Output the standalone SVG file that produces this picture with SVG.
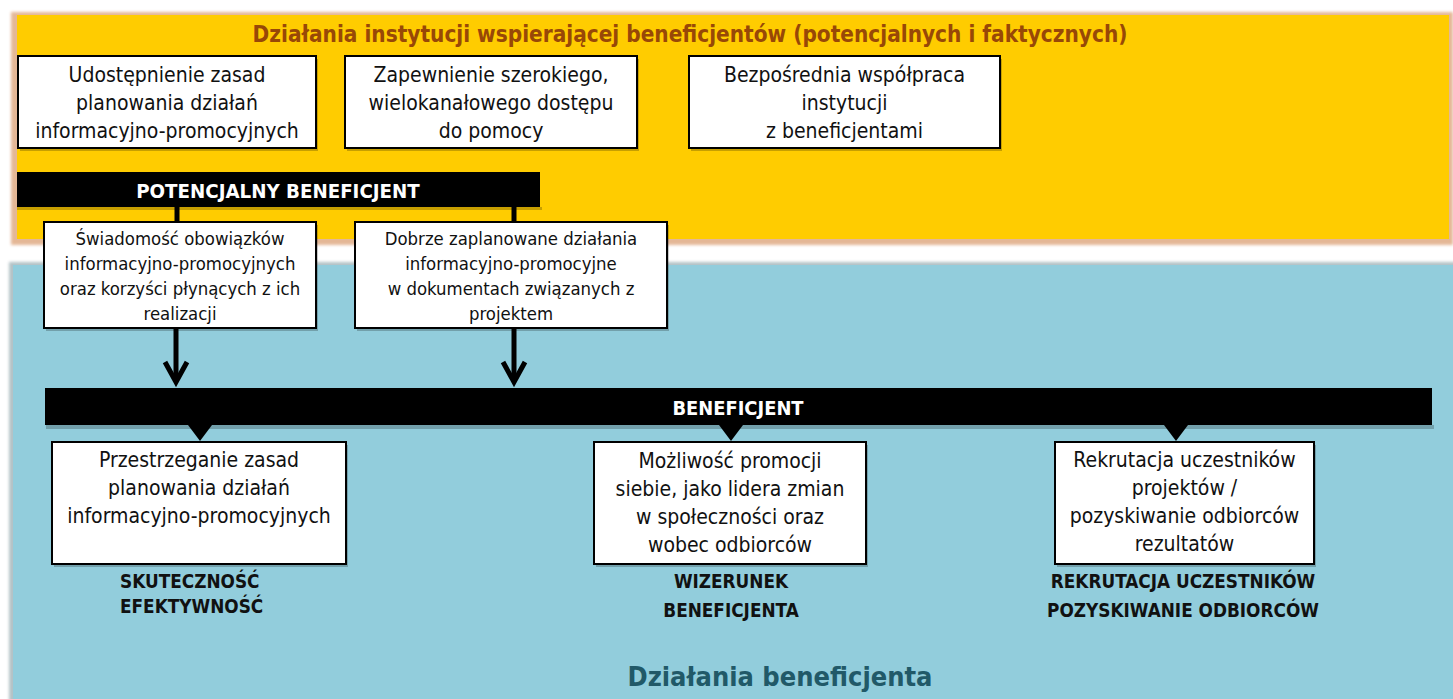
<svg xmlns="http://www.w3.org/2000/svg" width="1453" height="699" viewBox="0 0 1453 699">
<defs>
<style>
text{font-family:"DejaVu Sans Condensed","DejaVu Sans",Verdana,sans-serif;font-stretch:condensed;fill:#111;}
.t19{font-size:21px;text-anchor:middle;}
.t17{font-size:18.4px;text-anchor:middle;}
.lbl{font-size:18.8px;font-weight:bold;}
.bar{fill:#000;}
.bartxt{fill:#fff;font-weight:bold;font-size:20.3px;text-anchor:middle;}
.box{fill:#fff;stroke:#000;stroke-width:2;}
.shd{fill:#000;opacity:0.22;}
.conn{stroke:#000;stroke-width:5;fill:none;}
.chev{stroke:#000;stroke-width:5;fill:none;stroke-linecap:butt;stroke-linejoin:miter;}
</style>
<filter id="blur" x="-5%" y="-5%" width="110%" height="110%"><feGaussianBlur stdDeviation="1.6"/></filter>
</defs>
<rect width="1453" height="699" fill="#fff"/>
<g id="panel-institution">
<rect x="11" y="12" width="1442" height="233" fill="#e4b796" filter="url(#blur)"/>
<rect x="17" y="15" width="1432" height="224" fill="#ffcc00"/>
<text x="690" y="42" style="font-size:22.4px;font-weight:bold;fill:#984807;text-anchor:middle">Działania instytucji wspierającej beneficjentów (potencjalnych i faktycznych)</text>
</g>
<g id="panel-beneficiary">
<rect x="9" y="262" width="1450" height="445" fill="#b4c2c6" filter="url(#blur)"/>
<rect x="13" y="265" width="1440" height="434" fill="#92cddc"/>
<text x="780" y="686" style="font-size:27px;font-weight:bold;fill:#215968;text-anchor:middle">Działania beneficjenta</text>
</g>
<g id="box-udostepnienie">
<rect class="shd" x="20" y="59" width="298" height="92"/>
<rect class="box" x="18" y="56" width="298" height="92"/>
<text class="t19" x="167" y="82">Udostępnienie zasad</text>
<text class="t19" x="167" y="110">planowania działań</text>
<text class="t19" x="167" y="138">informacyjno-promocyjnych</text>
</g>
<g id="box-zapewnienie">
<rect class="shd" x="347" y="59" width="292" height="92"/>
<rect class="box" x="345" y="56" width="292" height="92"/>
<text class="t19" x="491" y="82">Zapewnienie szerokiego,</text>
<text class="t19" x="491" y="110">wielokanałowego dostępu</text>
<text class="t19" x="491" y="138">do pomocy</text>
</g>
<g id="box-wspolpraca">
<rect class="shd" x="691" y="59" width="311" height="92"/>
<rect class="box" x="689" y="56" width="311" height="92"/>
<text class="t19" x="844.5" y="82">Bezpośrednia współpraca</text>
<text class="t19" x="844.5" y="110">instytucji</text>
<text class="t19" x="844.5" y="138">z beneficjentami</text>
</g>
<g id="connectors">
<line class="conn" x1="177" y1="207" x2="177" y2="223"/>
<line class="conn" x1="514" y1="207" x2="514" y2="223"/>
<line class="conn" x1="176" y1="328" x2="176" y2="382"/>
<polyline class="chev" points="165,362 176,382 187,362"/>
<line class="conn" x1="514" y1="328" x2="514" y2="382"/>
<polyline class="chev" points="503,362 514,382 525,362"/>
<polygon points="188,425 212,425 200,441" fill="#000"/>
<polygon points="719,425 743,425 731,441" fill="#000"/>
<polygon points="1164,425 1188,425 1176,441" fill="#000"/>
</g>
<g id="bar-potencjalny">
<rect class="shd" x="17" y="207" width="525" height="3"/>
<rect class="bar" x="17" y="172" width="523" height="35"/>
<text class="bartxt" x="278" y="198">POTENCJALNY BENEFICJENT</text>
</g>
<g id="box-swiadomosc">
<rect class="shd" x="46" y="225" width="272" height="106"/>
<rect class="box" x="44" y="222" width="272" height="106"/>
<text class="t17" x="180" y="245">Świadomość obowiązków</text>
<text class="t17" x="180" y="270">informacyjno-promocyjnych</text>
<text class="t17" x="180" y="295">oraz korzyści płynących z ich</text>
<text class="t17" x="180" y="320">realizacji</text>
</g>
<g id="box-dobrze">
<rect class="shd" x="357" y="225" width="312" height="106"/>
<rect class="box" x="355" y="222" width="312" height="106"/>
<text class="t17" x="511" y="245">Dobrze zaplanowane działania</text>
<text class="t17" x="511" y="270">informacyjno-promocyjne</text>
<text class="t17" x="511" y="295">w dokumentach związanych z</text>
<text class="t17" x="511" y="320">projektem</text>
</g>
<g id="bar-beneficjent">
<rect class="shd" x="46" y="425" width="1388" height="4"/>
<rect class="bar" x="45" y="388" width="1387" height="37"/>
<text class="bartxt" x="738" y="415" style="font-size:19.9px">BENEFICJENT</text>
</g>
<g id="box-przestrzeganie">
<rect class="shd" x="54" y="445" width="294" height="122"/>
<rect class="box" x="52" y="442" width="294" height="122"/>
<text class="t19" x="199" y="467">Przestrzeganie zasad</text>
<text class="t19" x="199" y="495">planowania działań</text>
<text class="t19" x="199" y="523">informacyjno-promocyjnych</text>
<text class="lbl" x="120" y="588">SKUTECZNOŚĆ</text>
<text class="lbl" x="120" y="613">EFEKTYWNOŚĆ</text>
</g>
<g id="box-mozliwosc">
<rect class="shd" x="596" y="445" width="272" height="122"/>
<rect class="box" x="594" y="442" width="272" height="122"/>
<text class="t19" x="730" y="468">Możliwość promocji</text>
<text class="t19" x="730" y="496">siebie, jako lidera zmian</text>
<text class="t19" x="730" y="524">w społeczności oraz</text>
<text class="t19" x="730" y="552">wobec odbiorców</text>
<text class="lbl" x="731" y="588" text-anchor="middle">WIZERUNEK</text>
<text class="lbl" x="731" y="617" text-anchor="middle">BENEFICJENTA</text>
</g>
<g id="box-rekrutacja">
<rect class="shd" x="1057" y="445" width="259" height="122"/>
<rect class="box" x="1055" y="442" width="259" height="122"/>
<text class="t19" x="1184.5" y="467">Rekrutacja uczestników</text>
<text class="t19" x="1184.5" y="495">projektów /</text>
<text class="t19" x="1184.5" y="523">pozyskiwanie odbiorców</text>
<text class="t19" x="1184.5" y="551">rezultatów</text>
<text class="lbl" x="1183" y="588" text-anchor="middle">REKRUTACJA UCZESTNIKÓW</text>
<text class="lbl" x="1183" y="617" text-anchor="middle">POZYSKIWANIE ODBIORCÓW</text>
</g>
</svg>
